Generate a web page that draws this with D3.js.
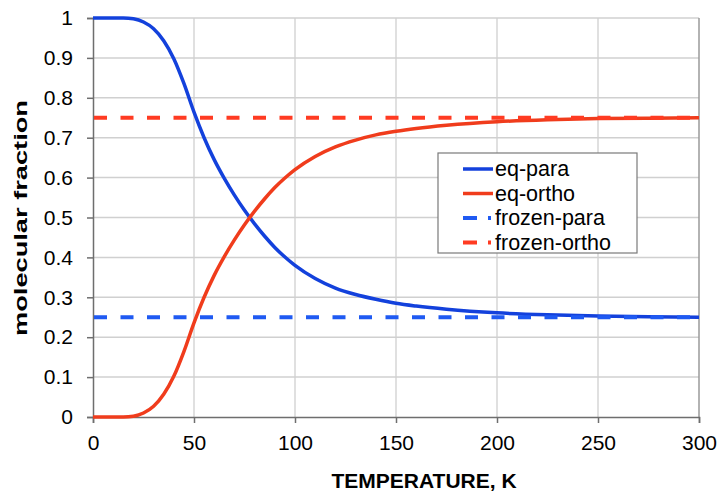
<!DOCTYPE html>
<html lang="en">
<head>
    <meta charset="UTF-8">
    <script src="https://d3js.org/d3.v7.min.js"></script>
    <style>
        html, body { margin: 0; background: #fff; overflow: hidden; }
        text { font-family: "Liberation Sans", Arial, sans-serif; fill: #000; }
    </style>
    <title>ortho / para</title>
</head>
<body>
<svg id="svg"></svg>
<script>
    // temperature (K) and read-off fractions
    const temps = [0, 15, 20, 25, 30, 35, 40, 45, 50, 55, 60, 65, 70, 75, 80, 85, 90, 95, 100,
                   110, 120, 130, 140, 150, 160, 175, 200, 225, 250, 275, 300];
    const eqPara = [1.000, 1.000, 0.998, 0.990, 0.973, 0.943, 0.898, 0.836, 0.764, 0.700, 0.645,
                    0.598, 0.556, 0.518, 0.484, 0.453, 0.425, 0.401, 0.380,
                    0.347, 0.323, 0.307, 0.295, 0.285, 0.278, 0.270, 0.261, 0.256, 0.253, 0.251, 0.250];
    const eqOrtho = [0.000, 0.000, 0.002, 0.010, 0.027, 0.057, 0.102, 0.164, 0.236, 0.300, 0.355,
                     0.402, 0.444, 0.482, 0.516, 0.547, 0.575, 0.599, 0.620,
                     0.653, 0.677, 0.694, 0.707, 0.716, 0.723, 0.731, 0.740, 0.745, 0.748, 0.749, 0.750];
    const frozenPara = [0.25, 0.25];
    const frozenOrtho = [0.75, 0.75];
    const frozenT = [0, 300];

    const xTicks = [0, 50, 100, 150, 200, 250, 300];
    const yTicks = [0, 0.1, 0.2, 0.3, 0.4, 0.5, 0.6, 0.7, 0.8, 0.9, 1];

    const series = [
        { name: 'eq-para', t: temps, v: eqPara, color: '#1341dc', dash: null },
        { name: 'eq-ortho', t: temps, v: eqOrtho, color: '#f03c1c', dash: null },
        { name: 'frozen-para', t: frozenT, v: frozenPara, color: '#1f5af2', dash: '13 13.5' },
        { name: 'frozen-ortho', t: frozenT, v: frozenOrtho, color: '#ff3b22', dash: '13 13.5' }
    ];

    const width = 724, height = 491;
    const svg = d3.select('#svg').attr('width', width).attr('height', height);
    const margin = { top: 18, left: 93, right: 25, bottom: 74 };

    const x = d3.scaleLinear().domain([0, 300]).range([margin.left, width - margin.right]);
    const y = d3.scaleLinear().domain([0, 1]).range([height - margin.bottom, margin.top]);

    // grid
    svg.append('g').selectAll('line').data(xTicks.slice(1, -1)).join('line')
        .attr('x1', d => x(d)).attr('x2', d => x(d))
        .attr('y1', y(0)).attr('y2', y(1))
        .attr('stroke', '#d6d6d6').attr('stroke-width', 1.5);
    svg.append('g').selectAll('line').data(yTicks.slice(1)).join('line')
        .attr('x1', x(0)).attr('x2', x(300))
        .attr('y1', d => y(d)).attr('y2', d => y(d))
        .attr('stroke', '#d0d0d0').attr('stroke-width', 1.5);
    // right border
    svg.append('line')
        .attr('x1', x(300)).attr('x2', x(300)).attr('y1', y(1)).attr('y2', y(0))
        .attr('stroke', '#9a9a9a').attr('stroke-width', 1.5);

    // axes
    const xAxis = svg.append('g').attr('transform', `translate(0,${y(0)})`)
        .call(d3.axisBottom(x).tickValues(xTicks).tickSize(6).tickPadding(12).tickFormat(d3.format('d')));
    const yAxis = svg.append('g').attr('transform', `translate(${x(0)},0)`)
        .call(d3.axisLeft(y).tickValues(yTicks).tickSize(6).tickPadding(14).tickFormat(d => d));
    [xAxis, yAxis].forEach(a => {
        a.select('.domain').attr('stroke', '#6e6e6e').attr('stroke-width', 1.5);
        a.selectAll('.tick line').attr('stroke', '#6e6e6e').attr('stroke-width', 1.5);
        a.selectAll('text').attr('font-size', 21).attr('font-family', '"Liberation Sans", Arial, sans-serif').attr('fill', '#000');
    });

    // lines
    const line = d3.line().curve(d3.curveMonotoneX);
    svg.append('g').selectAll('path').data(series).join('path')
        .attr('fill', 'none')
        .attr('stroke', d => d.color)
        .attr('stroke-width', d => d.dash ? 4 : 3.5)
        .attr('stroke-dasharray', d => d.dash)
        .attr('stroke-dashoffset', -1)
        .attr('d', d => line(d.t.map((t, i) => [x(t), y(d.v[i])])));

    // legend
    const lg = svg.append('g').attr('transform', 'translate(438,153)');
    lg.append('rect').attr('width', 199).attr('height', 100)
        .attr('fill', '#fff').attr('stroke', '#7a7a7a').attr('stroke-width', 1.2);
    const items = lg.selectAll('g').data(series).join('g')
        .attr('transform', (d, i) => `translate(0,${16 + i * 24.5})`);
    items.append('line')
        .attr('x1', 25).attr('x2', 55)
        .attr('stroke', d => d.color).attr('stroke-width', d => d.dash ? 4 : 3.5)
        .attr('stroke-dasharray', d => d.dash ? '14 11 3 20' : null);
    items.append('text')
        .attr('x', 57).attr('y', 7)
        .attr('font-size', 21.5)
        .text(d => d.name);

    // titles
    svg.append('text')
        .attr('x', 424).attr('y', 488)
        .attr('text-anchor', 'middle')
        .attr('font-size', 21).attr('font-weight', 'bold')
        .text('TEMPERATURE, K');
    svg.append('text')
        .attr('transform', 'translate(27,218) rotate(-90)')
        .attr('text-anchor', 'middle')
        .attr('font-size', 18).attr('font-weight', 'bold')
        .attr('textLength', 236).attr('lengthAdjust', 'spacingAndGlyphs')
        .text('molecular fraction');
</script>
</body>
</html>
